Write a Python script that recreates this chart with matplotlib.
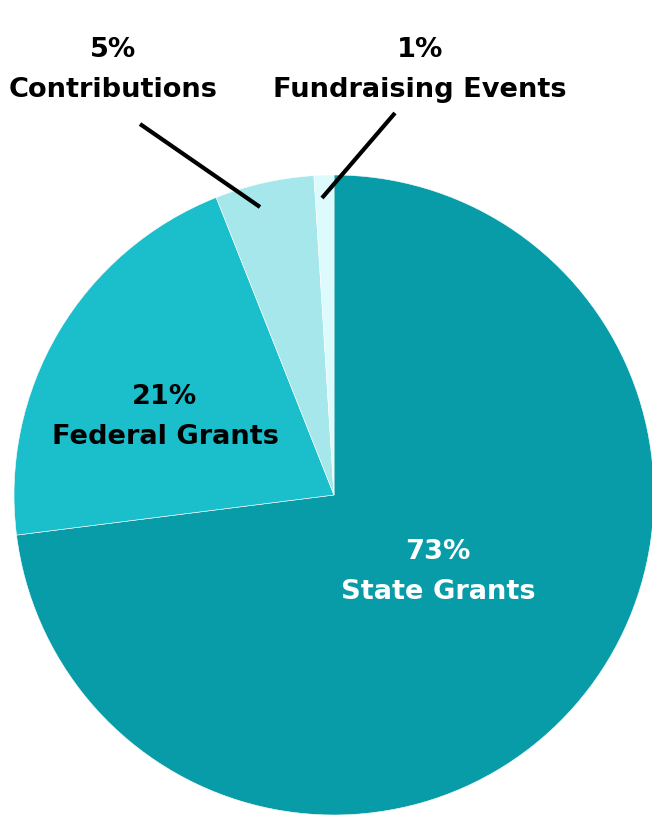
import matplotlib
matplotlib.use("Agg")
from matplotlib import pyplot as plt

categories = ["State Grants", "Federal Grants", "Contributions", "Fundraising Events"]
shares = [73, 21, 5, 1]
colors = ["#089ca8", "#1bbfcc", "#a6e7eb", "#ddfafc"]

plt.rcParams["font.family"] = ["DejaVu Sans"]

fig = plt.figure(figsize=(6.52, 8.15), dpi=100)
ax = fig.add_axes([0, 0, 1, 1])

# pie in pixel coordinates (y measured from the bottom)
ax.pie(shares, colors=colors, startangle=90, counterclock=False,
       center=(334, 320), radius=320, frame=True,
       wedgeprops=dict(edgecolor="white", linewidth=0.4))
ax.set_xlim(0, 652)
ax.set_ylim(0, 815)
ax.set_aspect("equal")
ax.axis("off")

label_style = dict(ha="center", va="center", fontsize=19.6, fontweight="heavy", linespacing=1.7)

# inside labels
ax.text(438, 815 - 572, f"{shares[0]}%\n{categories[0]}", color="white", **label_style)
ax.text(165, 815 - 417, f"{shares[1]}%\n{categories[1]}", color="black", **label_style)

# outside labels with leader lines
ax.text(113, 815 - 70, f"{shares[2]}%\n{categories[2]}", color="black", **label_style)
ax.text(420, 815 - 70, f"{shares[3]}%\n{categories[3]}", color="black", **label_style)
ax.plot([140, 260], [815 - 124, 815 - 207], color="black", lw=3, solid_capstyle="butt")
ax.plot([395, 322], [815 - 113, 815 - 198], color="black", lw=3, solid_capstyle="butt")

fig.savefig("out.png", dpi=100)
